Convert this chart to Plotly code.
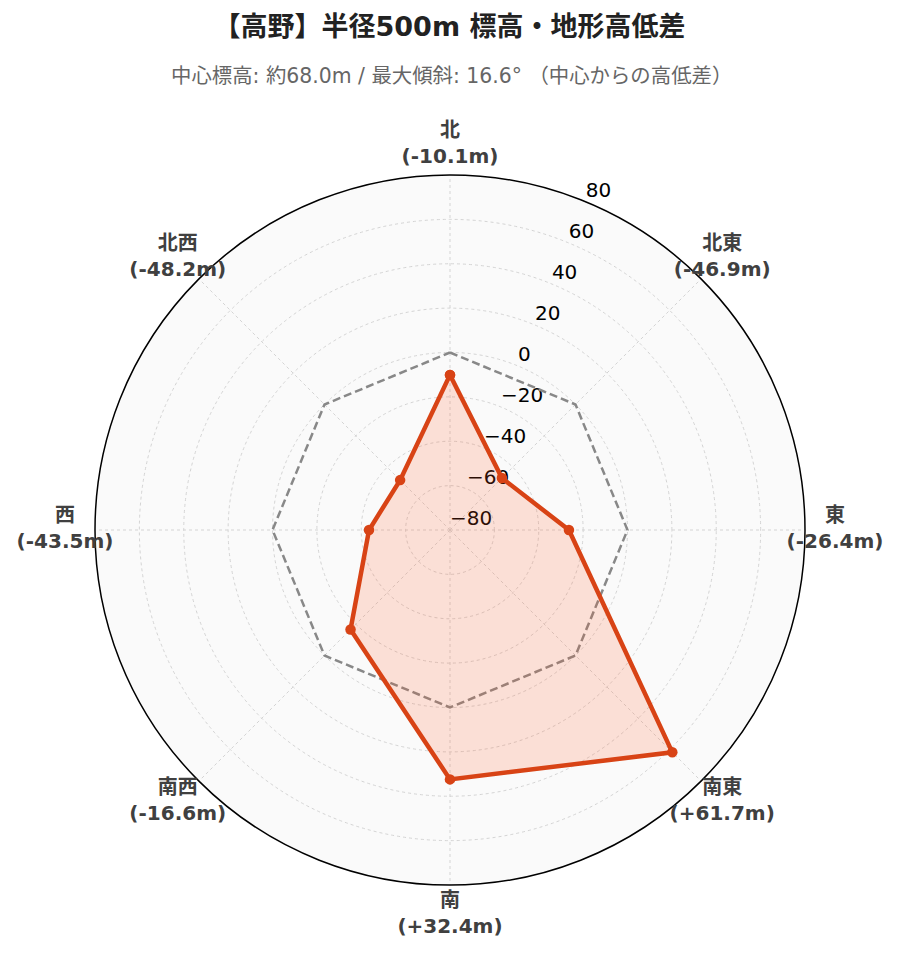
import plotly.graph_objects as go

directions = ["北", "北東", "東", "南東", "南", "南西", "西", "北西"]
direction_angles = [0, 45, 90, 135, 180, 225, 270, 315]
diffs = [-10.1, -46.9, -26.4, 61.7, 32.4, -16.6, -43.5, -48.2]
zero_ref = [0, 0, 0, 0, 0, 0, 0, 0]
radial_ticks = [-80, -60, -40, -20, 0, 20, 40, 60, 80]
r_range = [-80, 80]

title_text = "【高野】半径500m 標高・地形高低差"
subtitle_text = "中心標高: 約68.0m / 最大傾斜: 16.6° （中心からの高低差）"

label_texts = [f"<b>{d}<br>({v:+.1f}m)</b>" if v > 0 else f"<b>{d}<br>({v:.1f}m)</b>"
               for d, v in zip(directions, diffs)]
radial_tick_texts = [str(v).replace("-", "\u2212") for v in radial_ticks]

FONT = "DejaVu Sans, Noto Sans CJK JP, sans-serif"
W, H = 899, 962
OFF = 8            # page body margin
CX, CY = 450 - OFF, 530 - OFF   # polar centre in figure pixels
R_PLOT = 355       # outer ring radius (px)
R_LAB = 385        # direction label ring radius (px)
TICK_ANGLE = 22.5  # radial tick label direction (clockwise from north)


def dom(radius):
    return dict(x=[(CX - radius) / W, (CX + radius) / W],
                y=[(H - CY - radius) / H, (H - CY + radius) / H])


theta_closed = direction_angles + [direction_angles[0]]

fig = go.Figure()
fig.add_trace(go.Scatterpolar(
    r=radial_ticks, theta=[TICK_ANGLE] * len(radial_ticks), mode="text", text=radial_tick_texts,
    textposition="top right", cliponaxis=False, hoverinfo="skip", showlegend=False,
    textfont=dict(size=20, color="black", family=FONT)))
fig.add_trace(go.Scatterpolar(
    r=zero_ref + [zero_ref[0]], theta=theta_closed, mode="lines",
    line=dict(color="#888888", width=2.5, dash="8px,4px"), hoverinfo="skip", showlegend=False))
fig.add_trace(go.Scatterpolar(
    r=diffs + [diffs[0]], theta=theta_closed, mode="lines+markers",
    line=dict(color="#d84315", width=4.5), marker=dict(size=10.5, color="#d84315"),
    fill="toself", fillcolor="rgba(255,87,34,0.17)", showlegend=False))
fig.add_trace(go.Scatterpolar(
    r=[1] * len(directions), theta=direction_angles, mode="text", text=label_texts,
    textposition="middle center", cliponaxis=False, hoverinfo="skip", showlegend=False,
    textfont=dict(size=20, color="#404040", family=FONT), subplot="polar2"))

fig.update_layout(
    width=W, height=H,
    paper_bgcolor="white",
    margin=dict(l=0, r=0, t=0, b=0),
    font=dict(family=FONT, color="#333333"),
    title=dict(text=f"<b>{title_text}</b>", x=0.5 - 8 / W, xanchor="center", y=1 - 19 / H, yanchor="middle",
               font=dict(size=27, color="#222222", family=FONT)),
    annotations=[dict(text=subtitle_text, x=0.5 - 6.5 / W, y=1 - 68 / H, xref="paper", yref="paper",
                      showarrow=False, xanchor="center", yanchor="middle",
                      font=dict(size=20.4, color="#666666", family=FONT))],
    polar=dict(
        domain=dom(R_PLOT),
        bgcolor="#fafafa",
        angularaxis=dict(direction="clockwise", rotation=90,
                         tickvals=direction_angles, showticklabels=False,
                         showline=True, linecolor="black", linewidth=1.5,
                         gridcolor="#d4d4d4", griddash="dot", gridwidth=1.2, ticks=""),
        radialaxis=dict(range=r_range, tickvals=radial_ticks, showticklabels=False,
                        showline=False, ticks="", gridcolor="#d4d4d4", griddash="dot", gridwidth=1.2),
    ),
    polar2=dict(
        domain=dom(R_LAB),
        bgcolor="rgba(0,0,0,0)",
        angularaxis=dict(direction="clockwise", rotation=90, showline=False, showgrid=False,
                         showticklabels=False, ticks=""),
        radialaxis=dict(range=[0, 1], visible=False),
    ),
)

fig.write_html("out.html")
